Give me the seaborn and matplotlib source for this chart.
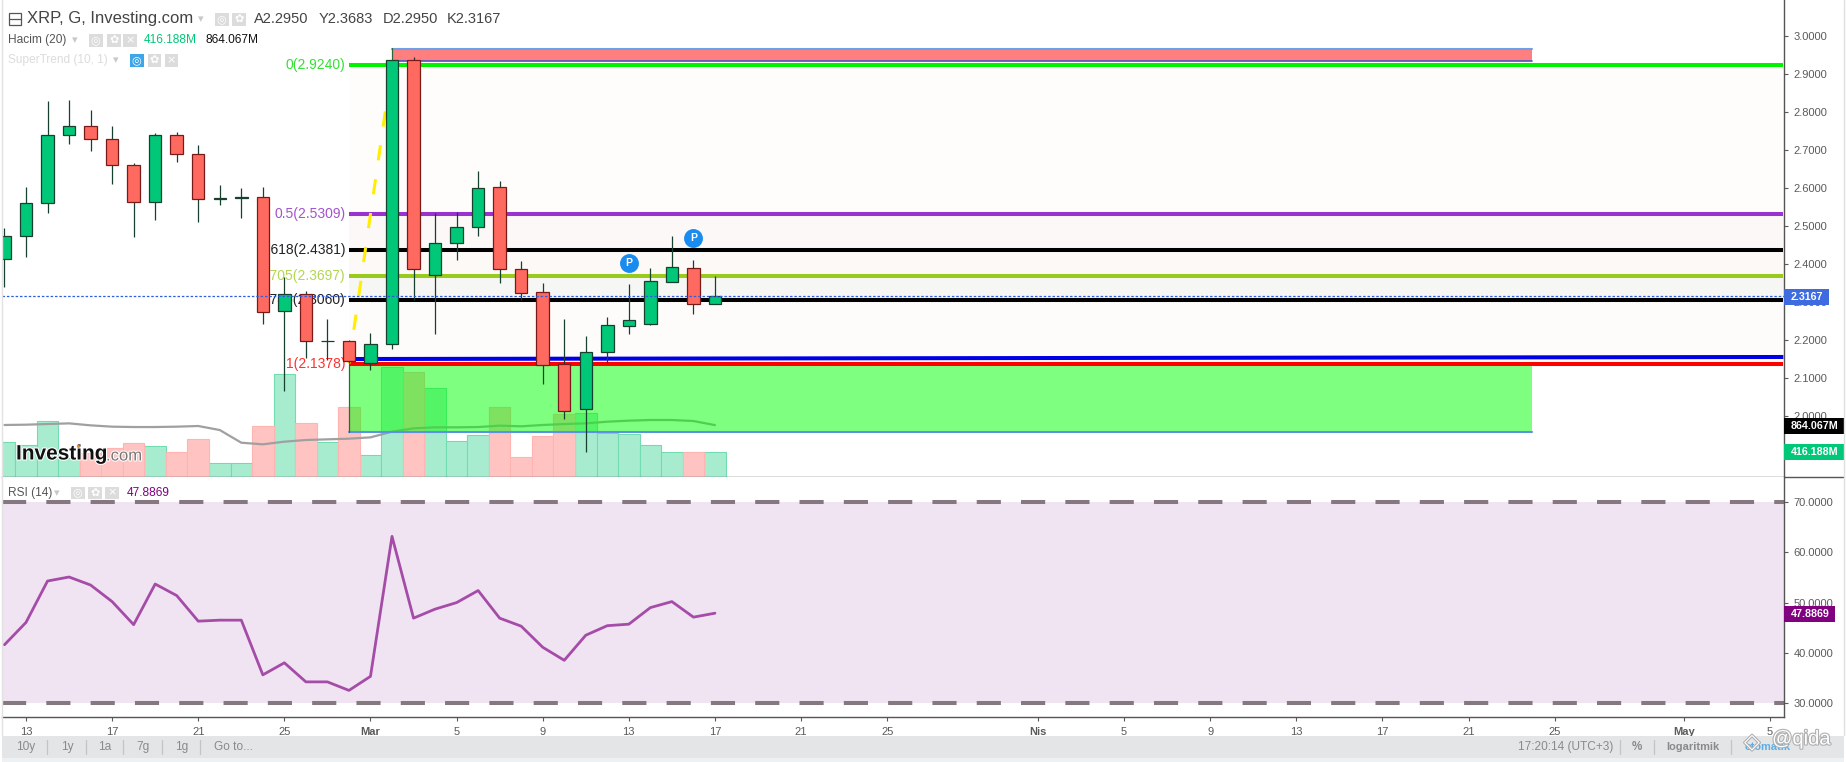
import numpy as np
import pandas as pd
import matplotlib
matplotlib.use("Agg")
import matplotlib.pyplot as plt
from matplotlib.patches import Rectangle
import matplotlib.patheffects as pe
import seaborn as sns

sns.set_theme(style="white")
plt.rcParams["font.family"] = ["Liberation Sans", "DejaVu Sans"]

days = list(range(-1, 33))
opens = [2.4122,2.4728,2.5596,2.7386,2.7622,2.7280,2.6596,2.5622,2.7386,2.6886,2.5701,2.5728,2.5754,2.2754,2.3201,2.1965,2.1965,2.1386,2.1886,2.9359,2.3701,2.4543,2.4982,2.6017,2.3859,2.3254,2.1359,2.0175,2.1693,2.2377,2.2429,2.3535,2.3886,2.2950]
highs = [2.4938,2.6035,2.8298,2.8324,2.8052,2.7631,2.6666,2.7456,2.7465,2.7131,2.6079,2.5991,2.6017,2.3666,2.3280,2.2552,2.2000,2.2193,2.9359,2.9456,2.5333,2.5368,2.6456,2.6193,2.4079,2.3508,2.2552,2.2105,2.2614,2.3465,2.3894,2.4736,2.4114,2.3683]
lows = [2.3386,2.4193,2.5333,2.7166,2.6982,2.6114,2.4719,2.5166,2.6693,2.5114,2.5552,2.5219,2.2429,2.0666,2.1535,2.1473,2.1386,2.1219,2.1763,2.3052,2.2158,2.4105,2.4736,2.3491,2.3052,2.0842,1.9921,1.9061,2.1403,2.2158,2.2394,2.3535,2.2684,2.2950]
closes = [2.4728,2.5596,2.7386,2.7622,2.7280,2.6596,2.5622,2.7386,2.6886,2.5701,2.5728,2.5754,2.2728,2.3201,2.1965,2.1975,2.1438,2.1886,2.9359,2.3859,2.4543,2.4982,2.5991,2.3859,2.3228,2.1333,2.0122,2.1675,2.2386,2.2517,2.3543,2.3912,2.2938,2.3167]
volumes = [577,533,927,311,394,477,561,522,411,627,228,228,849,1709,894,577,1160,361,1837,1754,1476,605,694,1160,327,677,1043,1060,727,710,527,411,411,416]
volume_ma = [866,871,882,893,860,838,832,832,838,849,782,571,544,588,616,627,638,660,755,810,827,827,832,855,844,866,882,893,921,938,949,949,932,864]
rsi = [41.6,46.05,54.3,55.1,53.5,50.2,45.6,53.7,51.4,46.3,46.5,46.5,35.6,38.0,34.2,34.2,32.5,35.3,63.2,46.9,48.7,50.0,52.4,46.9,45.3,41.1,38.5,43.5,45.4,45.7,49.0,50.2,47.1,47.8869]

fib_prices = [2.9240, 2.5309, 2.4381, 2.3697, 2.3060, 2.1378]
fib_labels = ["0(2.9240)", "0.5(2.5309)", "0.618(2.4381)", "0.705(2.3697)", "0.786(2.3060)", "1(2.1378)"]
fib_colors = ["#00f400", "#9a32cd", "#000000", "#9aca1e", "#000000", "#ff0000"]
fib_text_colors = ["#33e033", "#a552cc", "#222222", "#b4d650", "#222222", "#ff3030"]
band_colors = ["#fffdfc", "#fbf8f7", "#fcf9f7", "#f6f6f5", "#fefcfb"]
price_ticks = [3.0, 2.9, 2.8, 2.7, 2.6, 2.5, 2.4, 2.3, 2.2, 2.1, 2.0]
rsi_ticks = [70, 60, 50, 40, 30]
x_tick_days = [0, 4, 8, 12, 16, 20, 24, 28, 32, 36, 40, 47, 51, 55, 59, 63, 67, 71, 77, 81]
x_tick_labels = ["13","17","21","25","Mar","5","9","13","17","21","25","Nis","5","9","13","17","21","25","May","5"]
bold_labels = ["Mar", "Nis", "May"]

W, H = 1846, 762
PX_PER_DAY, X0 = 21.53, 26
XLIM = ((2 - X0) / PX_PER_DAY, (1784 - X0) / PX_PER_DAY)
GREEN, RED, WICK = "#00c878", "#ff6a60", "#17402f"
TICK = "#5a5a5a"

def box(x0, y0, x1, y1):
    return [x0 / W, 1 - y1 / H, (x1 - x0) / W, (y1 - y0) / H]

fig = plt.figure(figsize=(W / 100, H / 100), dpi=100, facecolor="white")
ax_vol = fig.add_axes(box(2, 0, 1784, 477), zorder=1)
ax = fig.add_axes(box(2, 0, 1784, 477), zorder=2)
ax_rsi = fig.add_axes(box(2, 477, 1784, 717), zorder=2)
ov = fig.add_axes([0, 0, 1, 1], zorder=10)
ov.set_xlim(0, W); ov.set_ylim(H, 0); ov.axis("off"); ov.patch.set_visible(False)

# volume
df = pd.DataFrame({"day": days, "volume": volumes,
                   "dir": ["up" if c >= o else "down" for o, c in zip(opens, closes)]})
sns.barplot(data=df, x="day", y="volume", hue="dir", palette={"up": "#a8ecd0", "down": "#ffc4c2"},
            native_scale=True, width=1, dodge=False, saturation=1, legend=False, ax=ax_vol)
for cont, edge in zip(ax_vol.containers, ["#72dcb0" if df["dir"].iloc[0] == "up" else "#ffb4b2",
                                           "#ffb4b2" if df["dir"].iloc[0] == "up" else "#72dcb0"]):
    for p in cont:
        p.set_edgecolor(edge); p.set_linewidth(0.8)
sns.lineplot(x=days, y=volume_ma, color="#a0a0a0", lw=1.6, estimator=None, errorbar=None, ax=ax_vol)
ax_vol.set_xlim(XLIM); ax_vol.set_ylim(0, 7942)
ax_vol.set_xticks([]); ax_vol.set_yticks([]); ax_vol.set_xlabel(""); ax_vol.set_ylabel("")
for s in ax_vol.spines.values():
    s.set_visible(False)

# price panel
ax.patch.set_visible(False)
ax.set_xlim(XLIM); ax.set_ylim(1.8395, 3.0947)
RIGHT = XLIM[1]
LEFT_F = 15 - 0.02
for top, bot, c in zip(fib_prices[:-1], fib_prices[1:], band_colors):
    ax.add_patch(Rectangle((LEFT_F, bot), RIGHT - LEFT_F, top - bot, fc=c, ec="none", zorder=0.5))
RECT_R = (1532 - X0) / PX_PER_DAY
ax.add_patch(Rectangle((LEFT_F, 1.9587), RECT_R - LEFT_F, 2.1378 - 1.9587, fc=(0, 1, 0, 0.5), ec="none", zorder=1))
ax.plot([LEFT_F, RECT_R], [1.9587, 1.9587], color="#5c92e6", lw=1.5, zorder=1.2)
ax.plot([LEFT_F, LEFT_F], [1.9587, 2.1378], color="#2a6a3a", lw=0.9, zorder=1.2)
ax.add_patch(Rectangle((17, 2.935), RECT_R - 17, 0.031, fc=(1, 0, 0, 0.5), ec="none", zorder=1))
ax.plot([17, RECT_R], [2.966, 2.966], color="#6f9fe8", lw=1.5, zorder=1.2)
ax.plot([17, RECT_R], [2.935, 2.935], color="#4a55c8", lw=1.2, zorder=1.2)
ax.plot([17, 17], [2.935, 2.968], color="#2a6a3a", lw=0.9, zorder=1.2)
for price, label, c, tc in zip(fib_prices, fib_labels, fib_colors, fib_text_colors):
    ax.plot([LEFT_F, RIGHT - 0.03], [price, price], color=c, lw=2.9, solid_capstyle="butt", zorder=2)
    ax.text(LEFT_F - 0.14, price, label, color=tc, fontsize=10, ha="right", va="center", zorder=2)
ax.plot([15.3, RIGHT - 0.03], [2.150, 2.1553], color="#0000e6", lw=2.9, solid_capstyle="butt", zorder=2)
ax.plot([15, 17], [2.1378, 2.9240], color="#ffee00", lw=2.2, dashes=(5, 6.2), dash_capstyle="butt", zorder=2.2)
ax.axhline(closes[-1], color="#2f5fe0", lw=0.9, ls=(0, (2, 1.5)), zorder=6)

for d, o, h, l, c in zip(days, opens, highs, lows, closes):
    up = c >= o
    ax.plot([d, d], [l, h], color=WICK, lw=0.9, zorder=3, solid_capstyle="butt")
    thin = abs(c - o) < 0.004
    ax.add_patch(Rectangle((d - 0.29, min(o, c)), 0.58, max(abs(c - o), 0.0001),
                           fc=WICK if thin else (GREEN if up else RED),
                           ec=WICK if up else "#7a1a18", lw=0.9, zorder=4))

ax.scatter([28.0, 31.0], [2.4018, 2.4676], s=185, color="#1a8cf0", zorder=5, linewidths=0)
for x_, y_ in zip([28.0, 31.0], [2.4018, 2.4676]):
    ax.text(x_, y_, "P", color="white", fontsize=7.5, fontweight="bold", ha="center", va="center", zorder=5.5)

ax.set_xticks([])
ax.yaxis.tick_right()
ax.set_yticks(price_ticks)
ax.set_yticklabels([f"{v:.4f}" for v in price_ticks], color=TICK, fontsize=8)
ax.tick_params(axis="y", which="both", right=True, length=3, width=0.8, color=TICK, pad=4)
for k, s in ax.spines.items():
    s.set_visible(k in ("right", "bottom"))
    s.set_color("#555555"); s.set_linewidth(1)

# RSI panel
ax_rsi.set_xlim(XLIM); ax_rsi.set_ylim(27.2, 75.03)
ax_rsi.axhspan(30, 70, color="#f0e4f2", lw=0, zorder=0)
for level in (30, 70):
    ax_rsi.axhline(level, color="#85797f", lw=2.9, dashes=(6, 5), dash_capstyle="butt", zorder=1)
sns.lineplot(x=days, y=rsi, color="#a54ca8", lw=2.0, estimator=None, errorbar=None, ax=ax_rsi, zorder=3)
ax_rsi.yaxis.tick_right()
ax_rsi.set_yticks(rsi_ticks)
ax_rsi.set_yticklabels([f"{v:.4f}" for v in rsi_ticks], color=TICK, fontsize=8)
ax_rsi.set_xticks(x_tick_days)
ax_rsi.set_xticklabels(x_tick_labels, color=TICK, fontsize=8)
for t in ax_rsi.get_xticklabels():
    if t.get_text() in bold_labels:
        t.set_fontweight("bold")
ax_rsi.tick_params(axis="both", which="both", bottom=True, right=True, length=3, width=0.8, color=TICK, pad=4)
ax_rsi.set_xlabel(""); ax_rsi.set_ylabel("")
for k, s in ax_rsi.spines.items():
    s.set_visible(k in ("right", "bottom"))
    s.set_color("#555555"); s.set_linewidth(1)

# interface furniture
ov.plot([2, 2], [0, 735], color="#e2e2e2", lw=1)
ov.plot([1784, 1844], [477, 477], color="#555555", lw=1)
ov.plot([1844, 1844], [0, 735], color="#e0e0e0", lw=1)
def label_box(x1, y0, y1, fc, text):
    ov.add_patch(Rectangle((1784, y0), x1 - 1784, y1 - y0, fc=fc, ec="none"))
    ov.text(1791, (y0 + y1) / 2 + 0.3, text, color="white", fontsize=7.7, fontweight="bold", va="center", ha="left")
label_box(1829, 289, 304.7, "#3f6be0", "2.3167")
label_box(1844, 418, 434, "#000000", "864.067M")
label_box(1844, 444, 460, "#00c878", "416.188M")
label_box(1835, 606, 622, "#800080", "47.8869")

ov.add_patch(Rectangle((8.7, 13), 11.8, 12, fc="white", ec="#555555", lw=0.9))
ov.plot([8.7, 20.5], [19, 19], color="#555555", lw=0.9)
ov.text(27, 19, "XRP, G, Investing.com", color="#444444", fontsize=12, va="center")
ov.text(253.5, 19, "A2.2950", color="#444444", fontsize=10.5, va="center")
ov.text(318.7, 19, "Y2.3683", color="#444444", fontsize=10.5, va="center")
ov.text(382.8, 19, "D2.2950", color="#444444", fontsize=10.5, va="center")
ov.text(447, 19, "K2.3167", color="#444444", fontsize=10.5, va="center")
ov.text(8, 40, "Hacim (20)", color="#555555", fontsize=8.6, va="center")
ov.text(144, 40, "416.188M", color="#00c878", fontsize=8.6, va="center")
ov.text(205, 40, "864.067M", color="#111111", fontsize=8.6, va="center")
ov.text(8, 60, "SuperTrend (10, 1)", color="#dcdcdc", fontsize=8.6, va="center")
ov.text(8, 492.7, "RSI (14)", color="#555555", fontsize=8.6, va="center")
ov.text(127, 492.7, "47.8869", color="#800080", fontsize=8.6, va="center")
for x_, y_ in [(201, 19), (75, 40), (116, 60), (57, 492.7)]:
    ov.text(x_, y_, "▾", color="#c8c8c8", fontsize=8, ha="center", va="center", family="DejaVu Sans")
icons = [(215, 13, "◎"), (232, 13, "✿"), (89, 34, "◎"), (107, 34, "✿"), (123, 34, "×"),
         (130, 54, "◎"), (147.5, 54, "✿"), (164.5, 54, "×"), (71, 486.5, "◎"), (88, 486.5, "✿"), (105, 486.5, "×")]
for x_, y_, g in icons:
    blue = (x_ == 130)
    ov.add_patch(Rectangle((x_, y_), 13.5, 12.5, fc="#3ea6e8" if blue else "#dcdcdc", ec="none"))
    ov.text(x_ + 6.75, y_ + 6.25, g, color="white", fontsize=8, ha="center", va="center", family="DejaVu Sans")

halo = [pe.withStroke(linewidth=1.5, foreground="white")]
ov.text(16, 454, "Investing", color="#111111", fontsize=15, fontweight="bold", va="center", path_effects=halo)
ov.text(106, 456, ".com", color="#777777", fontsize=12, va="center", path_effects=halo)
ov.scatter([78], [446], s=5, color="#f08a20", zorder=12, linewidths=0)

# bottom toolbar
ov.add_patch(Rectangle((2, 735.7), 1842, 22.3, fc="#e4e5e7", ec="none"))
ov.add_patch(Rectangle((2, 758), 1842, 4, fc="#eef1f3", ec="none"))
for x_, t in zip([25.5, 67, 105, 143, 182, 233], ["10y", "1y", "1a", "7g", "1g", "Go to..."]):
    ov.text(x_, 747, t, color="#8a8a8a", fontsize=8.6, ha="center", va="center")
for x_ in [47, 86, 123, 162, 199.5, 1620, 1653.7, 1731]:
    ov.plot([x_, x_], [740, 754], color="#c4c4c4", lw=0.9)
ov.text(1518, 747, "17:20:14 (UTC+3)", color="#8a8a8a", fontsize=8.6, va="center")
ov.text(1637, 747, "%", color="#8a8a8a", fontsize=8.4, fontweight="bold", ha="center", va="center")
ov.text(1693, 747, "logaritmik", color="#8a8a8a", fontsize=7.9, fontweight="bold", ha="center", va="center")
ov.text(1768, 747, "otomatik", color="#5aaee8", fontsize=7.9, fontweight="bold", ha="center", va="center")
wm = [pe.withStroke(linewidth=1.6, foreground="#b0b0b0")]
ov.text(1772, 739, "@qida", color="white", fontsize=14.5, ha="left", va="center", path_effects=wm, zorder=13)
ov.text(1752, 742, "◇", color="white", fontsize=15, ha="center", va="center", family="DejaVu Sans", path_effects=wm, zorder=13)

fig.savefig("out.png", dpi=100)
